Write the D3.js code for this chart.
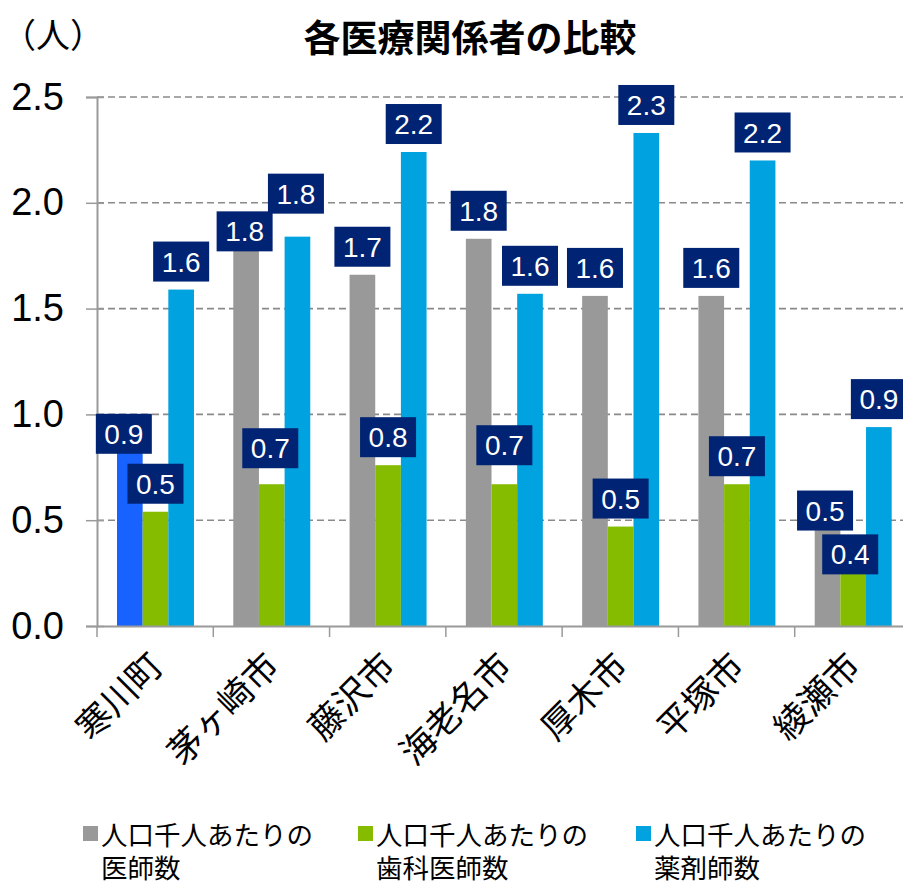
<!DOCTYPE html>
<html>
<head>
<meta charset="utf-8">
<script src="https://cdn.jsdelivr.net/npm/d3@7"></script>
<style>
  html, body { margin: 0; padding: 0; background: #fff; }
  svg { display: block; }
  text { font-family: "Liberation Sans", Arial, sans-serif; }
  .jp { font-family: "Noto Sans CJK JP", "Noto Sans", sans-serif; }
</style>
</head>
<body>
<svg id="chart" width="903" height="882"></svg>
<script>
// Per-1,000-population counts of medical professionals by municipality
const cities = ["寒川町", "茅ヶ崎市", "藤沢市", "海老名市", "厚木市", "平塚市", "綾瀬市"];
const seriesKeys = ["doctor", "dentist", "pharmacist"];
const seriesNames = [
  ["人口千人あたりの", "医師数"],
  ["人口千人あたりの", "歯科医師数"],
  ["人口千人あたりの", "薬剤師数"]
];
const doctors     = [0.88, 1.78, 1.66, 1.83, 1.56, 1.56, 0.47];
const dentists    = [0.54, 0.67, 0.76, 0.67, 0.47, 0.67, 0.40];
const pharmacists = [1.59, 1.84, 2.24, 1.57, 2.33, 2.20, 0.94];
const yTicks = [0.0, 0.5, 1.0, 1.5, 2.0, 2.5];
const titleText = "各医療関係者の比較";
const unitText = "（人）";
const highlightCity = "寒川町";

const seriesValues = [doctors, dentists, pharmacists];
const colors = { doctor: "#999999", dentist: "#86bc00", pharmacist: "#00a2df" };
const highlightColor = "#1862ff";

// Hand-placed label offsets (dx, dy in px) where labels would collide
const labelNudge = {
  "寒川町|doctor": [-6, 22],
  "茅ヶ崎市|doctor": [-1.5, 10],
  "茅ヶ崎市|dentist": [-1.5, -8],
  "茅ヶ崎市|pharmacist": [-1.5, -15],
  "海老名市|dentist": [0, -11],
  "綾瀬市|doctor": [-2.5, 12],
  "綾瀬市|dentist": [-3, 41]
};

const rows = cities.map((c, i) => ({
  city: c,
  values: seriesKeys.map((k, j) => ({ city: c, key: k, value: seriesValues[j][i] }))
}));

const svg = d3.select("#chart");
const plot = { left: 97, right: 911, top: 97, bottom: 626 };

const x = d3.scaleBand().domain(cities).range([plot.left, plot.right]);
const x1 = d3.scaleBand().domain(seriesKeys)
  .range([x.bandwidth() * 0.172, x.bandwidth() * 0.834]);
const y = d3.scaleLinear().domain([0, 2.5]).range([plot.bottom, plot.top]);

// Title and unit
svg.append("text").attr("class", "jp")
  .attr("x", 470).attr("y", 52)
  .attr("text-anchor", "middle")
  .attr("font-size", 37).attr("font-weight", 700)
  .text(titleText);
svg.append("text").attr("class", "jp")
  .attr("x", 2).attr("y", 48)
  .attr("font-size", 34)
  .text(unitText);

// Dashed gridlines
svg.append("g").selectAll("line")
  .data(yTicks.filter(t => t > 0))
  .join("line")
  .attr("x1", plot.left).attr("x2", 903)
  .attr("y1", d => y(d)).attr("y2", d => y(d))
  .attr("stroke", "#8a8a8a").attr("stroke-width", 1.6)
  .attr("stroke-dasharray", "7,4");

// Bars
const groups = svg.append("g").selectAll("g")
  .data(rows).join("g")
  .attr("transform", d => `translate(${x(d.city)},0)`);

groups.selectAll("rect")
  .data(d => d.values).join("rect")
  .attr("x", d => x1(d.key))
  .attr("width", x1.bandwidth())
  .attr("y", d => y(d.value))
  .attr("height", d => y(0) - y(d.value))
  .attr("fill", d => (d.city === highlightCity && d.key === "doctor") ? highlightColor : colors[d.key]);

// Y axis
const yAxis = svg.append("g")
  .attr("transform", `translate(${plot.left},0)`)
  .call(d3.axisLeft(y).tickValues(yTicks).tickFormat(d3.format(".1f")).tickSize(11).tickPadding(22));
yAxis.select(".domain").attr("stroke", "#9a9a9a").attr("stroke-width", 2);
yAxis.selectAll(".tick line").attr("x2", 7).attr("x1", -11).attr("stroke", "#9a9a9a").attr("stroke-width", 1.5);
yAxis.selectAll(".tick text")
  .attr("font-family", "'Liberation Sans', Arial, sans-serif")
  .attr("font-size", 38).attr("fill", "#000");

// X axis
const xAxis = svg.append("g")
  .attr("transform", `translate(0,${plot.bottom})`)
  .call(d3.axisBottom(x).tickSize(0).tickFormat(""));
xAxis.select(".domain").attr("stroke", "#9a9a9a").attr("stroke-width", 2);
xAxis.selectAll(".tick").remove();
xAxis.append("g").selectAll("line")
  .data(cities.concat([null]))
  .join("line")
  .attr("x1", d => d === null ? plot.right : x(d))
  .attr("x2", d => d === null ? plot.right : x(d))
  .attr("y1", 0).attr("y2", 11)
  .attr("stroke", "#9a9a9a").attr("stroke-width", 1.5);

// Rotated category labels
svg.append("g").selectAll("text")
  .data(cities).join("text")
  .attr("class", "jp")
  .attr("transform", d => `translate(${x(d) + x.bandwidth() / 2 + 10},668) rotate(-45)`)
  .attr("text-anchor", "end")
  .attr("font-size", 35)
  .text(d => d);

// Value labels
const boxW = 56, boxH = 40, gap = 8;
const labels = svg.append("g").selectAll("g")
  .data(rows.flatMap(r => r.values)).join("g")
  .attr("transform", d => {
    const n = labelNudge[d.city + "|" + d.key] || [0, 0];
    const cx = x(d.city) + x1(d.key) + x1.bandwidth() / 2 + n[0];
    const bottom = y(d.value) - gap + n[1];
    return `translate(${cx},${bottom - boxH / 2})`;
  });
labels.append("rect")
  .attr("x", -boxW / 2).attr("y", -boxH / 2)
  .attr("width", boxW).attr("height", boxH)
  .attr("fill", "#002473");
labels.append("text")
  .attr("text-anchor", "middle")
  .attr("dy", "0.36em")
  .attr("font-size", 28)
  .attr("fill", "#fff")
  .text(d => d3.format(".1f")(d.value));

// Legend
const legendX = [83, 358, 636];
const legend = svg.append("g").selectAll("g")
  .data(seriesKeys).join("g")
  .attr("transform", (d, i) => `translate(${legendX[i]},826)`);
legend.append("rect")
  .attr("width", 15).attr("height", 15)
  .attr("fill", d => colors[d]);
legend.each(function(d, i) {
  const g = d3.select(this);
  seriesNames[i].forEach((line, k) => {
    g.append("text").attr("class", "jp")
      .attr("x", 18).attr("y", 19 + k * 33)
      .attr("font-size", 26.5)
      .text(line);
  });
});
</script>
</body>
</html>
